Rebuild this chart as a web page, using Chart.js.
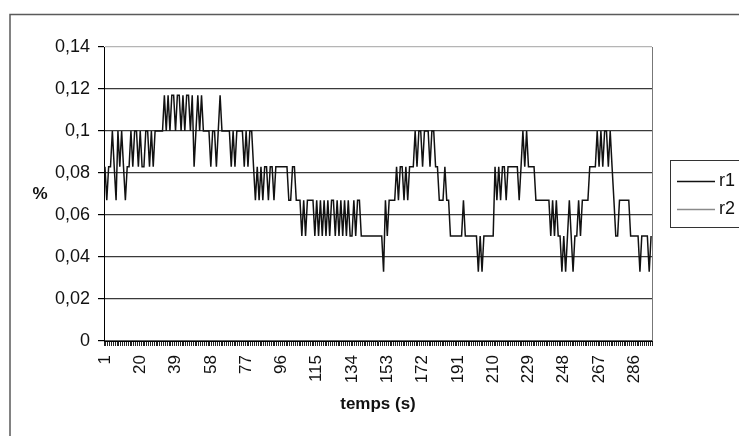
<!DOCTYPE html>
<html><head><meta charset="utf-8">
<script src="https://cdn.jsdelivr.net/npm/chart.js@4/dist/chart.umd.min.js"></script>
<style>html,body{margin:0;padding:0;background:#fff;}#wrap{width:739px;height:436px;position:relative;}</style>
</head><body><div id="wrap"><canvas id="c" width="739" height="436"></canvas></div>
<script>
// ---- data ----
const seriesNames = ['r1', 'r2'];
const r1 = [
  0.083,0.067,0.083,0.083,0.1,0.083,0.067,0.1,0.083,0.1,
  0.083,0.067,0.083,0.083,0.1,0.083,0.1,0.1,0.083,0.1,
  0.083,0.083,0.1,0.1,0.083,0.1,0.083,0.1,0.1,0.1,
  0.1,0.1,0.117,0.1,0.117,0.1,0.117,0.117,0.1,0.117,
  0.117,0.1,0.117,0.1,0.117,0.117,0.1,0.117,0.083,0.1,
  0.117,0.1,0.117,0.1,0.1,0.1,0.1,0.083,0.1,0.1,
  0.083,0.1,0.117,0.1,0.1,0.1,0.1,0.1,0.083,0.1,
  0.083,0.1,0.1,0.1,0.1,0.083,0.1,0.083,0.1,0.1,
  0.083,0.067,0.083,0.067,0.083,0.067,0.083,0.083,0.067,0.083,
  0.083,0.067,0.083,0.083,0.083,0.083,0.083,0.083,0.083,0.067,
  0.067,0.083,0.083,0.067,0.067,0.067,0.05,0.067,0.05,0.067,
  0.067,0.067,0.067,0.05,0.067,0.05,0.067,0.05,0.067,0.05,
  0.067,0.05,0.067,0.067,0.05,0.067,0.05,0.067,0.05,0.067,
  0.05,0.067,0.05,0.05,0.067,0.05,0.067,0.067,0.05,0.05,
  0.05,0.05,0.05,0.05,0.05,0.05,0.05,0.05,0.05,0.05,
  0.033,0.067,0.05,0.067,0.067,0.067,0.067,0.083,0.067,0.083,
  0.083,0.067,0.083,0.067,0.083,0.083,0.083,0.1,0.083,0.1,
  0.1,0.083,0.1,0.1,0.1,0.083,0.1,0.1,0.083,0.083,
  0.067,0.067,0.067,0.083,0.067,0.067,0.05,0.05,0.05,0.05,
  0.05,0.05,0.05,0.067,0.05,0.05,0.05,0.05,0.05,0.05,
  0.05,0.033,0.05,0.033,0.05,0.05,0.05,0.05,0.05,0.05,
  0.083,0.067,0.083,0.067,0.083,0.083,0.067,0.083,0.083,0.083,
  0.083,0.083,0.083,0.067,0.083,0.1,0.083,0.1,0.083,0.083,
  0.083,0.083,0.067,0.067,0.067,0.067,0.067,0.067,0.067,0.067,
  0.05,0.067,0.05,0.067,0.05,0.05,0.033,0.05,0.033,0.05,
  0.067,0.05,0.033,0.05,0.05,0.067,0.05,0.067,0.067,0.067,
  0.067,0.083,0.083,0.083,0.083,0.1,0.083,0.1,0.083,0.1,
  0.1,0.083,0.1,0.083,0.067,0.05,0.05,0.067,0.067,0.067,
  0.067,0.067,0.067,0.05,0.05,0.05,0.05,0.05,0.033,0.05,
  0.05,0.05,0.05,0.033,0.05
];
const r2 = [
  0,0,0,0,0,0,0,0,0,0,0,0,0,0,0,0,0,0,0,0,
  0,0,0,0,0,0,0,0,0,0,0,0,0,0,0,0,0,0,0,0,
  0,0,0,0,0,0,0,0,0,0,0,0,0,0,0,0,0,0,0,0,
  0,0,0,0,0,0,0,0,0,0,0,0,0,0,0,0,0,0,0,0,
  0,0,0,0,0,0,0,0,0,0,0,0,0,0,0,0,0,0,0,0,
  0,0,0,0,0,0,0,0,0,0,0,0,0,0,0,0,0,0,0,0,
  0,0,0,0,0,0,0,0,0,0,0,0,0,0,0,0,0,0,0,0,
  0,0,0,0,0,0,0,0,0,0,0,0,0,0,0,0,0,0,0,0,
  0,0,0,0,0,0,0,0,0,0,0,0,0,0,0,0,0,0,0,0,
  0,0,0,0,0,0,0,0,0,0,0,0,0,0,0,0,0,0,0,0,
  0,0,0,0,0,0,0,0,0,0,0,0,0,0,0,0,0,0,0,0,
  0,0,0,0,0,0,0,0,0,0,0,0,0,0,0,0,0,0,0,0,
  0,0,0,0,0,0,0,0,0,0,0,0,0,0,0,0,0,0,0,0,
  0,0,0,0,0,0,0,0,0,0,0,0,0,0,0,0,0,0,0,0,
  0,0,0,0,0,0,0,0,0,0,0,0,0,0,0
];
// time categories 1..295 (seconds)
const categories = r1.map((_, i) => String(i + 1));
const labelEvery = 19;               // one label every 19 s : 1, 20, 39 ... 286
const yMin = 0, yMax = 0.14, yStep = 0.02;
const xTitle = 'temps (s)';
const yTitle = '%';

// ---- styling ----
const FONT = '"Liberation Sans", Arial, Helvetica, sans-serif';
const seriesColors = ['#111111', '#8a8a8a'];

function fmt(v) {
  const r = Math.round(v * 100) / 100;
  return String(r).replace('.', ',');
}

const decor = {
  id: 'decor',
  beforeDraw(chart) {
    const ctx = chart.ctx;
    ctx.save();
    ctx.fillStyle = '#fff';
    ctx.fillRect(0, 0, chart.width, chart.height);
    ctx.strokeStyle = '#5a5a5a';
    ctx.lineWidth = 1.5;
    ctx.beginPath();
    ctx.moveTo(10, 436); ctx.lineTo(10, 14.5); ctx.lineTo(739, 14.5);
    ctx.stroke();
    ctx.restore();
  },
  afterDraw(chart) {
    const ctx = chart.ctx;
    const a = chart.chartArea;
    ctx.save();
    // right border of plot area
    ctx.strokeStyle = '#777';
    ctx.lineWidth = 1;
    ctx.beginPath();
    ctx.moveTo(Math.round(a.right) + 0.5, a.top);
    ctx.lineTo(Math.round(a.right) + 0.5, a.bottom);
    ctx.stroke();
    // y title "%"
    ctx.fillStyle = '#111';
    ctx.font = 'bold 17px ' + FONT;
    ctx.textAlign = 'center';
    ctx.textBaseline = 'middle';
    ctx.fillText(yTitle, 40, 194);
    // legend box
    ctx.strokeStyle = '#333';
    ctx.lineWidth = 1;
    ctx.strokeRect(670.5, 160.5, 80, 67);
    ctx.font = '18px ' + FONT;
    ctx.textAlign = 'left';
    const ys = [181, 209];
    chart.data.datasets.forEach((ds, i) => {
      ctx.strokeStyle = ds.borderColor;
      ctx.lineWidth = 1.4;
      ctx.beginPath();
      ctx.moveTo(677, ys[i] + 0.5); ctx.lineTo(715, ys[i] + 0.5);
      ctx.stroke();
      ctx.fillStyle = '#111';
      ctx.fillText(ds.label, 719, ys[i]);
    });
    ctx.restore();
  }
};

new Chart(document.getElementById('c'), {
  type: 'line',
  data: {
    labels: categories,
    datasets: [
      { label: seriesNames[0], data: r1, borderColor: seriesColors[0], borderWidth: 1.5,
        pointRadius: 0, tension: 0, fill: false, order: 1 },
      { label: seriesNames[1], data: r2, borderColor: seriesColors[1], borderWidth: 1,
        pointRadius: 0, tension: 0, fill: false, order: 2 }
    ]
  },
  options: {
    responsive: false,
    animation: false,
    devicePixelRatio: 1,
    layout: { padding: { left: 0, top: 47, right: 87, bottom: 21 } },
    plugins: { legend: { display: false }, tooltip: { enabled: false }, title: { display: false } },
    scales: {
      x: {
        type: 'category',
        offset: true,
        grid: { offset: true, drawOnChartArea: false, drawTicks: true, tickLength: 5, color: '#222', lineWidth: 1 },
        border: { display: true, color: '#000', width: 1 },
        ticks: {
          autoSkip: false, minRotation: 90, maxRotation: 90, padding: 9, color: '#111',
          font: { family: FONT, size: 17 },
          callback: (v, i) => (i % labelEvery === 0 ? categories[i] : '')
        },
        title: { display: true, text: xTitle, color: '#111', padding: 0,
                 font: { family: FONT, size: 17, weight: 'bold' } },
        afterFit: s => { s.height = 74; }
      },
      y: {
        min: yMin, max: yMax,
        grid: {
          color: c => (c.index === 7 ? '#b5b5b5' : '#3a3a3a'),
          tickColor: '#000', tickLength: 6, lineWidth: 1.2, drawTicks: true
        },
        border: { display: true, color: '#000', width: 1 },
        ticks: { stepSize: yStep, padding: 8, color: '#111', font: { family: FONT, size: 18 },
                 callback: v => fmt(v) },
        afterFit: s => { s.width = 104; }
      }
    }
  },
  plugins: [decor]
});
</script>
</body></html>
